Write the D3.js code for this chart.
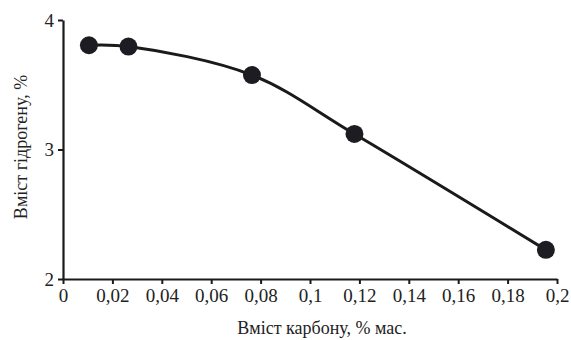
<!DOCTYPE html>
<html>
<head>
<meta charset="utf-8">
<script src="https://cdn.jsdelivr.net/npm/d3@7"></script>
<style>
  svg text { font-family: "Liberation Serif", "Times New Roman", serif !important; }
</style>
</head>
<body style="margin:0">
<script>
var carbon = [0.0105, 0.0265, 0.0765, 0.118, 0.1955];
var hydrogen = [3.805, 3.795, 3.575, 3.12, 2.225];
var xTicks = [0, 0.02, 0.04, 0.06, 0.08, 0.1, 0.12, 0.14, 0.16, 0.18, 0.2];
var yTicks = [2, 3, 4];

var width = 571, height = 340;
var margin = {top: 20, right: 14, bottom: 61, left: 63};

var svg = d3.select("body").append("svg")
    .attr("width", width)
    .attr("height", height)
    .attr("font-family", "Liberation Serif");

var x = d3.scaleLinear().domain([0, 0.2]).range([margin.left, width - margin.right]);
var y = d3.scaleLinear().domain([2, 4]).range([height - margin.bottom, margin.top]);

var fmt = function (d) { return String(d).replace(".", ","); };

// x axis
var gx = svg.append("g")
    .attr("transform", "translate(0," + y(2) + ")")
    .call(d3.axisBottom(x).tickValues(xTicks).tickSize(5).tickSizeOuter(0).tickPadding(5).tickFormat(fmt));
// y axis
var gy = svg.append("g")
    .attr("transform", "translate(" + x(0) + ",0)")
    .call(d3.axisLeft(y).tickValues(yTicks).tickSize(5).tickSizeOuter(0).tickPadding(4).tickFormat(fmt));

[gx, gy].forEach(function (g) {
    g.attr("font-family", "Liberation Serif").attr("font-size", 19);
    g.select(".domain").attr("stroke", "#1a1a1a").attr("stroke-width", 2.2);
    g.selectAll(".tick line").attr("stroke", "#1a1a1a").attr("stroke-width", 2);
    g.selectAll(".tick text")
        .attr("fill", "#222")
        .attr("font-family", "Liberation Serif");
});

// titles
svg.append("text")
    .attr("x", 322)
    .attr("y", 334)
    .attr("text-anchor", "middle")
    .attr("fill", "#222")
    .attr("font-family", "Liberation Serif")
    .attr("font-size", 18)
    .text("Вміст карбону, % мас.");

svg.append("text")
    .attr("transform", "translate(27," + 147 + ") rotate(-90)")
    .attr("text-anchor", "middle")
    .attr("fill", "#222")
    .attr("font-family", "Liberation Serif")
    .attr("font-size", 18)
    .text("Вміст гідрогену, %");

var pts = carbon.map(function (c, i) { return [c, hydrogen[i]]; });

var line = d3.line()
    .x(function (d) { return x(d[0]); })
    .y(function (d) { return y(d[1]); })
    .curve(d3.curveCatmullRom.alpha(0.5));

svg.append("path")
    .datum(pts)
    .attr("d", line)
    .attr("fill", "none")
    .attr("stroke", "#1a1a1a")
    .attr("stroke-width", 3);

svg.selectAll("circle.pt")
    .data(pts)
    .enter().append("circle")
    .attr("class", "pt")
    .attr("cx", function (d) { return x(d[0]); })
    .attr("cy", function (d) { return y(d[1]); })
    .attr("r", 9)
    .attr("fill", "#1c1c22");
</script>
</body>
</html>
